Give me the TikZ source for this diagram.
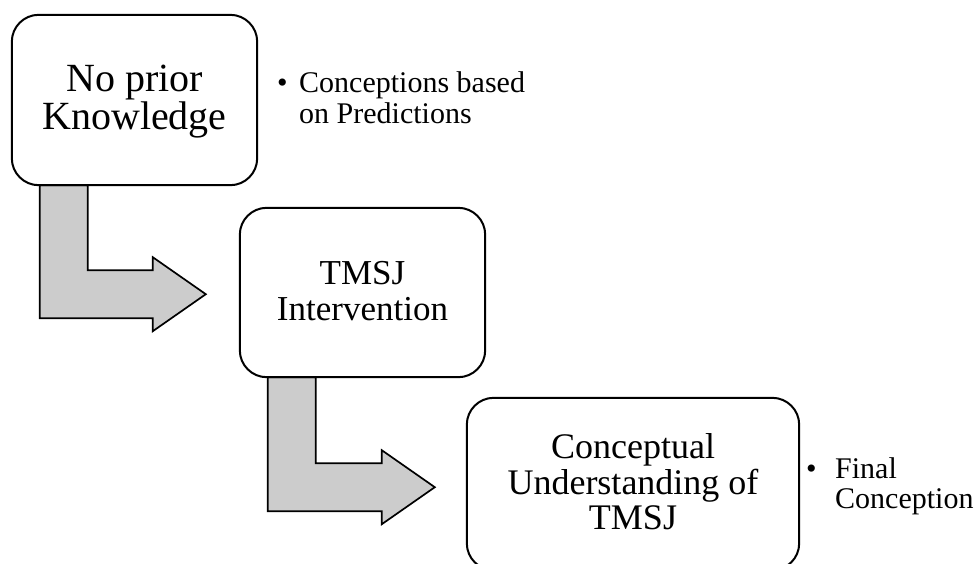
\documentclass[tikz,border=0pt]{standalone}
\usepackage{fontspec}
\setmainfont{Liberation Serif}
\usetikzlibrary{calc}
\tikzset{
  stagebox/.style={draw=black, line width=2pt, fill=white, rounded corners=27pt, inner sep=0pt},
  bentarrow/.style={draw=black, line width=1.7pt, fill=black!20, line join=miter},
  bigtext/.style={align=center, inner sep=0pt},
  sidetext/.style={inner sep=0pt, anchor=base west, font=\fontsize{30}{31}\selectfont},
}
\begin{document}
\begin{tikzpicture}[x=1pt, y=-1pt]
\useasboundingbox (0,0) rectangle (978,563);
\clip (0,0) rectangle (978,563);
\fill[white] (0,0) rectangle (978,563);

% boxes (empty shapes) placed first as nodes for reference
\node[minimum width=245pt, minimum height=170pt, inner sep=0pt] (b1) at (134.5,100) {};
\node[minimum width=245pt, minimum height=169pt, inner sep=0pt] (b2) at (362.5,292.5) {};
\node[minimum width=332pt, minimum height=172pt, inner sep=0pt] (b3) at (633,484) {};

% bent arrows
\draw[bentarrow] ($(b1.south west)+(28,0)$) -- ++(48,0) -- ++(0,85) -- ++(65,0) -- ++(0,-13)
  -- ++(53,37) -- ++(-53,37) -- ++(0,-13) -- ++(-113,0) -- cycle;
\draw[bentarrow] ($(b2.south west)+(28,0)$) -- ++(48,0) -- ++(0,86) -- ++(66,0) -- ++(0,-13)
  -- ++(53,37) -- ++(-53,37) -- ++(0,-13) -- ++(-114,0) -- cycle;

% box outlines
\draw[stagebox] (b1.south west) rectangle (b1.north east);
\draw[stagebox] (b2.south west) rectangle (b2.north east);
\draw[stagebox] (b3.south west) rectangle (b3.north east);

% box texts
\node[bigtext, font=\fontsize{40}{38}\selectfont] (t1) at (134.5,102) {No prior\\Knowledge};
\node[bigtext, font=\fontsize{35}{36}\selectfont] (t2) at (362.5,291) {TMSJ\\Intervention};
\node[bigtext, font=\fontsize{36}{35.5}\selectfont] (t3) at (633,482) {Conceptual\\Understanding of\\TMSJ};

% side bullet texts
\node[sidetext] (u1) at (277,92) {•};
\node[sidetext] (c1) at (299,92) {\begin{tabular}[t]{@{}l@{}}Conceptions based\\on Predictions\end{tabular}};
\node[sidetext, font=\fontsize{30}{30}\selectfont] (u2) at (806,478) {•};
\node[sidetext, font=\fontsize{30}{30}\selectfont] (c2) at (835,478) {\begin{tabular}[t]{@{}l@{}}Final\\Conception\end{tabular}};
\end{tikzpicture}
\end{document}
